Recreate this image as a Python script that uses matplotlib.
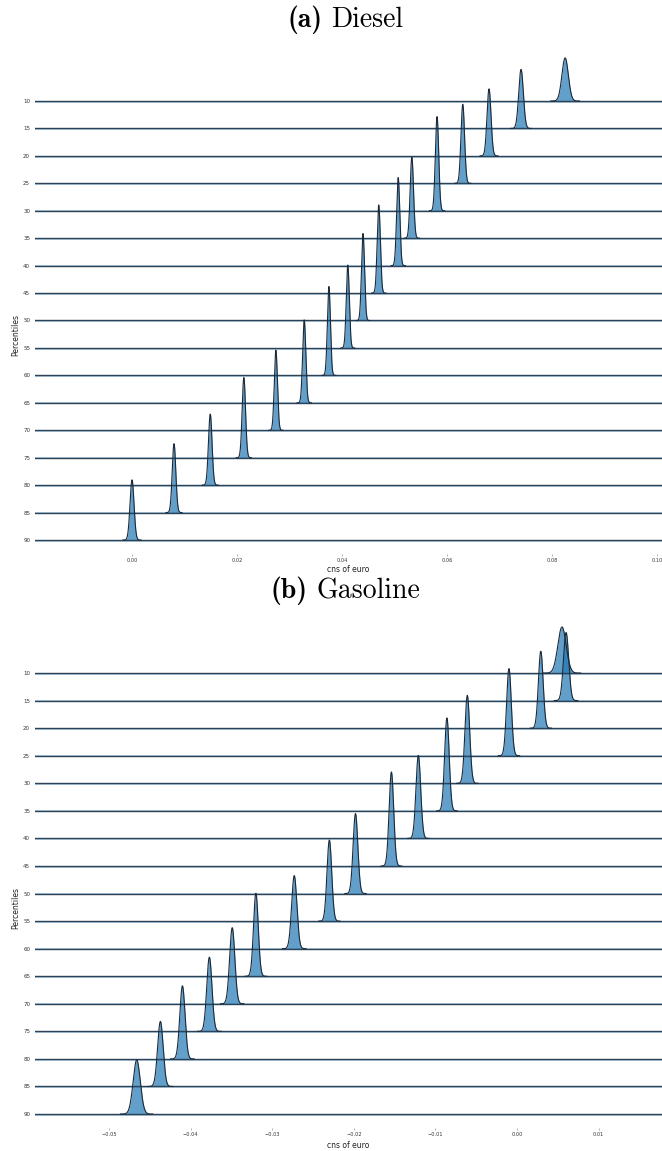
import numpy as np
import matplotlib
matplotlib.use("Agg")
import matplotlib.pyplot as plt

plt.rcParams['font.family'] = ['DejaVu Sans']

percentiles = [10, 15, 20, 25, 30, 35, 40, 45, 50, 55, 60, 65, 70, 75, 80, 85, 90]

# Diesel: centre (cns of euro), peak density (in row heights), spread
diesel_center = [0.0825, 0.0741, 0.0680, 0.0630, 0.0581, 0.0533, 0.0507, 0.0470, 0.0440,
                 0.0411, 0.0375, 0.0328, 0.0274, 0.0213, 0.0149, 0.0080, 0.0000]
diesel_peak = [1.57, 2.15, 2.44, 2.88, 3.43, 2.95, 3.21, 3.21, 3.17,
               3.02, 3.24, 3.02, 2.92, 2.92, 2.59, 2.51, 2.19]
diesel_sd = [0.00061, 0.00044, 0.00038, 0.00034, 0.00032, 0.00032, 0.00030, 0.00030, 0.00029,
             0.00029, 0.00029, 0.00030, 0.00030, 0.00032, 0.00034, 0.00034, 0.00038]

# Gasoline
gas_center = [0.0055, 0.0060, 0.0029, -0.0010, -0.0061, -0.0086, -0.0121, -0.0154, -0.0198,
              -0.0230, -0.0273, -0.0320, -0.0349, -0.0377, -0.0410, -0.0437, -0.0466]
gas_peak = [1.67, 2.47, 2.79, 3.16, 3.19, 3.37, 3.01, 3.41, 2.90,
            2.94, 2.65, 3.01, 2.76, 2.69, 2.65, 2.36, 1.96]
gas_sd = [0.00051, 0.00032, 0.00029, 0.00029, 0.00029, 0.00028, 0.00029, 0.00028, 0.00029,
          0.00029, 0.00032, 0.00029, 0.00032, 0.00032, 0.00032, 0.00034, 0.00044]

diesel_ticks = [0.00, 0.02, 0.04, 0.06, 0.08, 0.10]
gas_ticks = [-0.05, -0.04, -0.03, -0.02, -0.01, 0.00, 0.01]

W, H = 662, 1151
fig = plt.figure(figsize=(W / 100, H / 100), dpi=100)

FILL = '#1f77b4'
EDGE = '#1b2a3a'
BASE = '#2c4257'
UNDER = '#a8c6dc'


def ridge(ax, centers, peaks, sds, xlim, ticks, fmt):
    step = 5.0
    for p in percentiles:
        ax.axhline(p + 0.12, color=UNDER, lw=1.3, zorder=1)
        ax.axhline(p, color=BASE, lw=1.0, zorder=3)
    for p, c, h, s in zip(percentiles, centers, peaks, sds):
        x = np.linspace(c - 4.5 * s, c + 4.5 * s, 300)
        y = p - h * step * np.exp(-0.5 * ((x - c) / s) ** 2)
        ax.fill_between(x, p, y, color=FILL, alpha=0.7, lw=0, zorder=2)
        ax.plot(x, y, color=EDGE, lw=0.8, zorder=4)
    ax.set_xlim(*xlim)
    ax.set_ylim(92.5, 0)
    ax.set_yticks(percentiles)
    ax.set_yticklabels([str(p) for p in percentiles])
    ax.set_xticks(ticks)
    ax.set_xticklabels([fmt(t) for t in ticks])
    ax.tick_params(axis='y', length=0, pad=3.5, labelsize=4, labelcolor='#333333')
    ax.tick_params(axis='x', length=1.5, width=0.4, color='#777777', pad=1.5,
                   labelsize=3.6, labelcolor='#333333')
    for sp in ax.spines.values():
        sp.set_visible(False)
    ax.set_facecolor('none')


def fmt_a(t):
    return f"{t:.2f}"


def fmt_b(t):
    return f"{t:.2f}".replace('-', '\u2212')


def title(cx, cy_px, tag, word):
    renderer = fig.canvas.get_renderer()
    t1 = fig.text(0, 1 - cy_px / H, tag, ha='left', va='center', fontsize=20,
                  family='cmb10')
    t2 = fig.text(0, 1 - cy_px / H, word, ha='left', va='center', fontsize=20,
                  family='cmr10')
    w1 = t1.get_window_extent(renderer).width
    w2 = t2.get_window_extent(renderer).width
    gap = 9.0
    total = w1 + gap + w2
    x0 = cx - total / 2
    t1.set_x(x0 / W)
    t2.set_x((x0 + w1 + gap) / W)


# Panel (a)
ax_a = fig.add_axes([35 / W, 1 - 553.7 / H, (662 - 35) / W, (553.7 - 46.1) / H])
ridge(ax_a, diesel_center, diesel_peak, diesel_sd, (-0.01848, 0.10095), diesel_ticks, fmt_a)
fig.text(348.5 / W, 1 - 570 / H, 'cns of euro', ha='center', va='center', fontsize=5.5, color='#222222')
fig.text(16 / W, 1 - 335 / H, 'Percentiles', ha='center', va='center', rotation=90,
         fontsize=5.5, color='#222222')
title(345, 20, '(a)', 'Diesel')

# Panel (b)
ax_b = fig.add_axes([35 / W, 1 - 1127.8 / H, (662 - 35) / W, (1127.8 - 617.9) / H])
ridge(ax_b, gas_center, gas_peak, gas_sd, (-0.05906, 0.01775), gas_ticks, fmt_b)
fig.text(348.5 / W, 1 - 1145 / H, 'cns of euro', ha='center', va='center', fontsize=5.5, color='#222222')
fig.text(16 / W, 1 - 908 / H, 'Percentiles', ha='center', va='center', rotation=90,
         fontsize=5.5, color='#222222')
title(345, 591, '(b)', 'Gasoline')

fig.savefig('out.png', dpi=100)
